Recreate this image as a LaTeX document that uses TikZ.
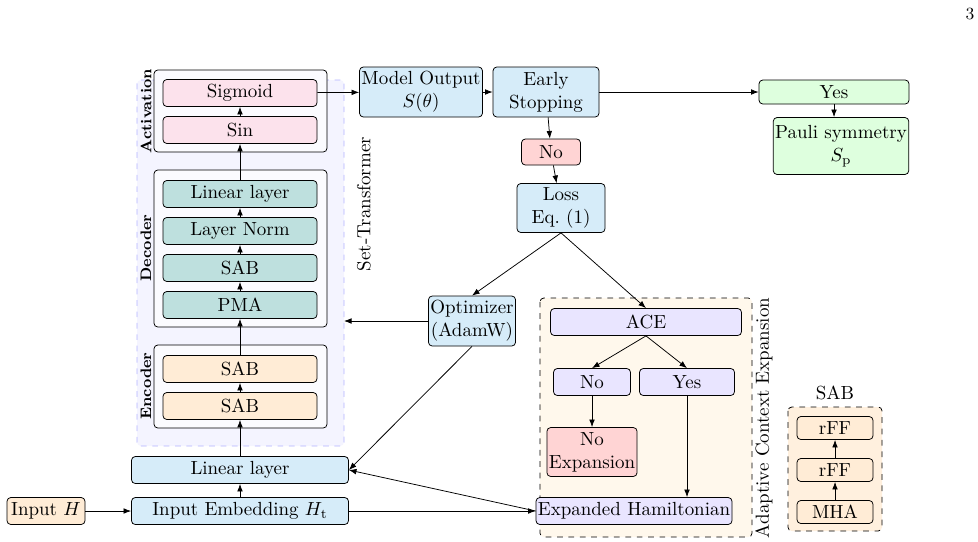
\documentclass[tikz,border=0pt]{standalone}
\usepackage{amsmath}
\usetikzlibrary{arrows.meta,positioning,fit}
\definecolor{cblue}{RGB}{214,236,249}
\definecolor{cpink}{RGB}{252,226,236}
\definecolor{cteal}{RGB}{190,224,222}
\definecolor{corange}{RGB}{255,236,214}
\definecolor{cred}{RGB}{255,212,212}
\definecolor{cgreen}{RGB}{222,255,222}
\definecolor{clav}{RGB}{233,229,255}
\definecolor{cace}{RGB}{255,248,236}
\definecolor{cset}{RGB}{244,244,255}
\newdimen\px \px=0.527pt
\tikzset{
  blk/.style={draw, rounded corners=2pt, fill=#1, align=center, inner sep=1pt, minimum height=27\px},
  grp/.style={draw, rounded corners=2pt, fill=white!60!cset},
  lbl/.style={rotate=90, font=\footnotesize\bfseries},
  arr/.style={-{Latex[length=4pt,width=3pt]}},
}
\begin{document}
\begin{tikzpicture}[x=\px, y=-\px]
\useasboundingbox (0,0) rectangle (978,541);
\node at (970,14) {\small 3};
% set-transformer background
\draw[dashed, blue!30, fill=cset, rounded corners=2pt] (137,80) rectangle (344,446);
\draw[grp] (154,70) rectangle (327,152);
\draw[grp] (154,170) rectangle (327,327);
\draw[grp] (154,345) rectangle (327,428);
\node[lbl] at (146,111) {Activation};
\node[lbl] at (146,248) {Decoder};
\node[lbl] at (146,386) {Encoder};
\node[rotate=90] (settxt) at (364,204) {Set-Transformer};
% stacked blocks
\node[blk=cpink, minimum width=154\px] (sig) at (240,93) {Sigmoid};
\node[blk=cpink, minimum width=154\px] (sin) at (240,130) {Sin};
\node[blk=cteal, minimum width=154\px] (lin) at (240,194) {Linear layer};
\node[blk=cteal, minimum width=154\px] (norm) at (240,231) {Layer Norm};
\node[blk=cteal, minimum width=154\px] (dsab) at (240,268) {SAB};
\node[blk=cteal, minimum width=154\px] (pma) at (240,305) {PMA};
\node[blk=corange, minimum width=154\px] (esab2) at (240,369) {SAB};
\node[blk=corange, minimum width=154\px] (esab1) at (240,406) {SAB};
\node[blk=cblue, minimum width=217\px] (inlin) at (240,470) {Linear layer};
\node[blk=cblue, minimum width=217\px] (emb) at (240,511) {Input Embedding $H_{\text{t}}$};
\node[blk=corange, minimum width=78\px] (inp) at (46,511) {Input $H$};
\coordinate (setE) at (344,321);
% right part
\node[blk=cblue, minimum width=98\px, minimum height=50\px] (out) at (421,92) {Model Output\\$S(\theta)$};
\node[blk=cblue, minimum width=106\px, minimum height=50\px] (stop) at (546,92) {Early\\Stopping};
\node[blk=cgreen, minimum width=150\px, minimum height=24\px] (yes) at (834,92) {Yes};
\node[blk=cgreen, minimum width=125\px, minimum height=57\px] (pauli) at (841,146) {Pauli symmetry\\$S_{\text{p}}$};
\node[blk=cred, minimum width=59\px, minimum height=26\px] (no) at (551,152) {No};
\node[blk=cblue, minimum width=88\px, minimum height=49\px] (loss) at (561,208) {Loss\\Eq.~(1)};
\node[blk=cblue, minimum width=87\px, minimum height=50\px] (opt) at (472,321) {Optimizer\\(AdamW)};
% adaptive context expansion
\draw[dashed, fill=cace, rounded corners=2pt] (540,298) rectangle (752,537);
\node[rotate=90] at (764,418) {Adaptive Context Expansion};
\node[blk=clav, minimum width=191\px] (ace) at (646,322) {ACE};
\node[blk=clav, minimum width=77\px] (ano) at (592,382) {No};
\node[blk=clav, minimum width=95\px] (ayes) at (687,382) {Yes};
\node[blk=cred, minimum width=89\px, minimum height=49\px] (noexp) at (592,452) {No\\Expansion};
\node[blk=clav, minimum width=187\px] (ham) at (634,511) {Expanded Hamiltonian};
% SAB detail
\draw[dashed, fill=corange!80!white, rounded corners=2pt] (788,407) rectangle (882,531);
\node at (835,393) {SAB};
\node[blk=corange, minimum width=76\px, minimum height=23\px] (rff2) at (835,428) {rFF};
\node[blk=corange, minimum width=76\px, minimum height=23\px] (rff1) at (835,470) {rFF};
\node[blk=corange, minimum width=76\px, minimum height=23\px] (mha) at (835,512) {MHA};
% connectors
\draw[arr] (inp) -- (emb);
\draw[arr] (emb) -- (inlin);
\draw[arr] (inlin) -- (esab1);
\draw[arr] (esab1) -- (esab2);
\draw[arr] (esab2) -- (pma);
\draw[arr] (pma) -- (dsab);
\draw[arr] (dsab) -- (norm);
\draw[arr] (norm) -- (lin);
\draw[arr] (lin) -- (sin);
\draw[arr] (sin) -- (sig);
\draw[arr] (sig) -- (out);
\draw[arr] (out) -- (stop);
\draw[arr] (stop.east |- yes) -- (yes);
\draw[arr] (yes) -- (yes |- pauli.north);
\draw[arr] (stop) -- (no);
\draw[arr] (no) -- (loss);
\draw[arr] (loss.south) -- (opt.north);
\draw[arr] (loss.south) -- (ace.north);
\draw[arr] (opt.west) -- (setE);
\draw[arr] (opt.south) -- (inlin.east);
\draw[arr] (emb) -- (ham);
\draw[arr] (ham.west) -- (inlin.east);
\draw[arr] (ace.south) -- (ano.north);
\draw[arr] (ace.south) -- (ayes.north);
\draw[arr] (ano) -- (noexp);
\draw[arr] (ayes) -- (ayes |- ham.north);
\draw[arr] (mha) -- (rff1);
\draw[arr] (rff1) -- (rff2);
\end{tikzpicture}
\end{document}
